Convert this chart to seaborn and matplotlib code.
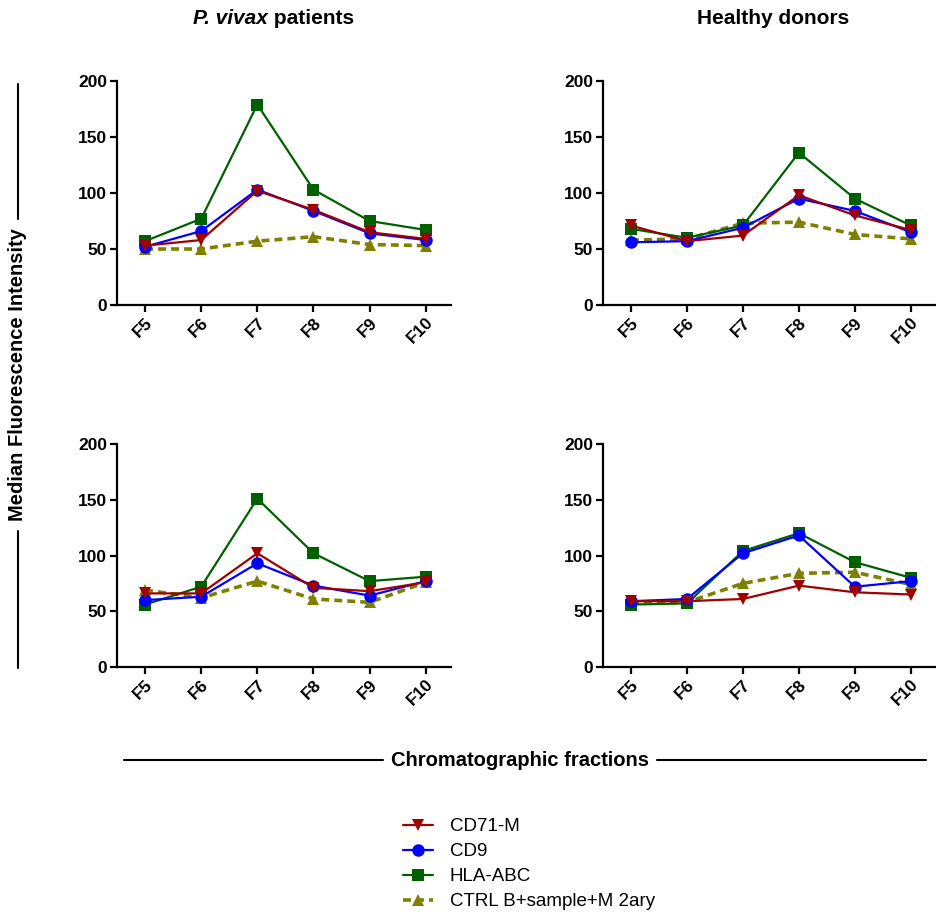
#!/usr/bin/env python3
import pandas as pd
import seaborn as sns
import matplotlib.pyplot as plt
from matplotlib.lines import Line2D

FRACTIONS = ["F5", "F6", "F7", "F8", "F9", "F10"]
MARKERS = ["CD71-M", "CD9", "HLA-ABC", "CTRL B+sample+M 2ary"]

# P. vivax patients, top panel
pv_top_cd71 = [53, 58, 102, 85, 65, 59]
pv_top_cd9 = [52, 66, 103, 84, 64, 58]
pv_top_hla = [57, 77, 179, 103, 75, 67]
pv_top_ctrl = [50, 50, 57, 61, 54, 53]

# Healthy donors, top panel
hd_top_cd71 = [71, 57, 62, 98, 80, 67]
hd_top_cd9 = [56, 57, 69, 95, 84, 65]
hd_top_hla = [68, 60, 71, 136, 95, 71]
hd_top_ctrl = [58, 59, 73, 74, 63, 59]

# P. vivax patients, bottom panel
pv_bot_cd71 = [66, 66, 102, 71, 68, 76]
pv_bot_cd9 = [60, 63, 93, 73, 64, 77]
pv_bot_hla = [56, 72, 151, 102, 77, 81]
pv_bot_ctrl = [69, 62, 77, 61, 58, 76]

# Healthy donors, bottom panel
hd_bot_cd71 = [59, 59, 61, 73, 67, 65]
hd_bot_cd9 = [59, 61, 102, 118, 72, 77]
hd_bot_hla = [56, 57, 104, 120, 94, 80]
hd_bot_ctrl = [57, 58, 75, 84, 85, 74]

PANELS = [
    [pv_top_cd71, pv_top_cd9, pv_top_hla, pv_top_ctrl],
    [hd_top_cd71, hd_top_cd9, hd_top_hla, hd_top_ctrl],
    [pv_bot_cd71, pv_bot_cd9, pv_bot_hla, pv_bot_ctrl],
    [hd_bot_cd71, hd_bot_cd9, hd_bot_hla, hd_bot_ctrl],
]

PALETTE = {
    "CD71-M": "#a00000",
    "CD9": "#0000ff",
    "HLA-ABC": "#006000",
    "CTRL B+sample+M 2ary": "#808000",
}
MARKER_STYLE = {"CD71-M": "v", "CD9": "o", "HLA-ABC": "s", "CTRL B+sample+M 2ary": "^"}
DASHES = {"CD71-M": None, "CD9": None, "HLA-ABC": None, "CTRL B+sample+M 2ary": (2.2, 1.4)}
LW = {"CD71-M": 1.6, "CD9": 1.6, "HLA-ABC": 1.6, "CTRL B+sample+M 2ary": 2.6}

W, H = 937, 914
sns.set_theme(style="white")
plt.rcParams["font.family"] = ["Liberation Sans", "DejaVu Sans"]
plt.rcParams["text.color"] = "black"
plt.rcParams["xtick.color"] = "black"
plt.rcParams["ytick.color"] = "black"
plt.rcParams["axes.labelcolor"] = "black"

fig = plt.figure(figsize=(W / 100, H / 100), dpi=100)

# axes boxes in pixels: left, top, right, bottom
boxes = [
    (117, 81, 451, 305),
    (603, 81, 936, 305),
    (117, 444, 451, 667),
    (603, 444, 936, 667),
]

# drawing order: control first, CD71-M last (on top)
draw_order = ["CTRL B+sample+M 2ary", "HLA-ABC", "CD9", "CD71-M"]

for (l, t, r, b), series in zip(boxes, PANELS):
    ax = fig.add_axes([l / W, 1 - b / H, (r - l) / W, (b - t) / H])
    vals = dict(zip(MARKERS, series))
    for m in draw_order:
        df = pd.DataFrame({"Fraction": FRACTIONS, "MFI": vals[m]})
        sns.lineplot(
            data=df, x="Fraction", y="MFI", ax=ax, sort=False,
            color=PALETTE[m], marker=MARKER_STYLE[m], markersize=9,
            markeredgewidth=0, linewidth=LW[m],
        )
        if DASHES[m]:
            ax.lines[-1].set_dashes(DASHES[m])
    ax.set_xlim(-0.5, 5.45)
    ax.set_ylim(0, 200)
    ax.set_yticks([0, 50, 100, 150, 200])
    ax.set_xlabel("")
    ax.set_ylabel("")
    sns.despine(ax=ax)
    for s in ["left", "bottom"]:
        ax.spines[s].set_linewidth(1.6)
        ax.spines[s].set_color("black")
    ax.tick_params(axis="both", which="major", direction="out", length=5,
                   width=1.6, color="black", bottom=True, left=True,
                   labelsize=12.5, pad=2)
    for lab in ax.get_yticklabels():
        lab.set_fontweight("bold")
    for lab in ax.get_xticklabels():
        lab.set_fontweight("bold")
        lab.set_rotation(45)
        lab.set_ha("right")
        lab.set_rotation_mode("anchor")

# column titles
t1 = fig.text(193 / W, 1 - 18 / H, "P. vivax", fontsize=15, fontweight="bold",
              style="italic", ha="left", va="center")
fig.axes[0].annotate(" patients", xy=(1, 0.5), xycoords=t1, ha="left",
                     va="center", fontsize=15, fontweight="bold",
                     annotation_clip=False)
fig.text(773 / W, 1 - 18 / H, "Healthy donors", fontsize=15,
         fontweight="bold", ha="center", va="center")

# y label with side rules
fig.text(18 / W, 1 - 375 / H, "Median Fluorescence Intensity", rotation=90,
         fontsize=14.5, fontweight="bold", ha="center", va="center")
for y0, y1 in [(84, 219), (531, 668)]:
    fig.add_artist(Line2D([18 / W, 18 / W], [1 - y0 / H, 1 - y1 / H],
                          color="black", lw=1.5))

# x label with side rules
fig.text(520 / W, 1 - 760 / H, "Chromatographic fractions",
         fontsize=14.5, fontweight="bold", ha="center", va="center")
for x0, x1 in [(124, 383), (657, 926)]:
    fig.add_artist(Line2D([x0 / W, x1 / W], [1 - 760 / H, 1 - 760 / H],
                          color="black", lw=1.5))

# legend
handles = []
for m in MARKERS:
    h = Line2D([], [], color=PALETTE[m], marker=MARKER_STYLE[m],
               markersize=9, markeredgewidth=0, linewidth=LW[m])
    if DASHES[m]:
        h.set_dashes(DASHES[m])
    handles.append(h)
fig.legend(handles, MARKERS, loc="upper left",
           bbox_to_anchor=(403 / W, 1 - 818 / H), frameon=False,
           fontsize=13.5, handlelength=1.6, handletextpad=0.9,
           labelspacing=0.42, borderaxespad=0, borderpad=0)

fig.savefig("out.png", dpi=100)
